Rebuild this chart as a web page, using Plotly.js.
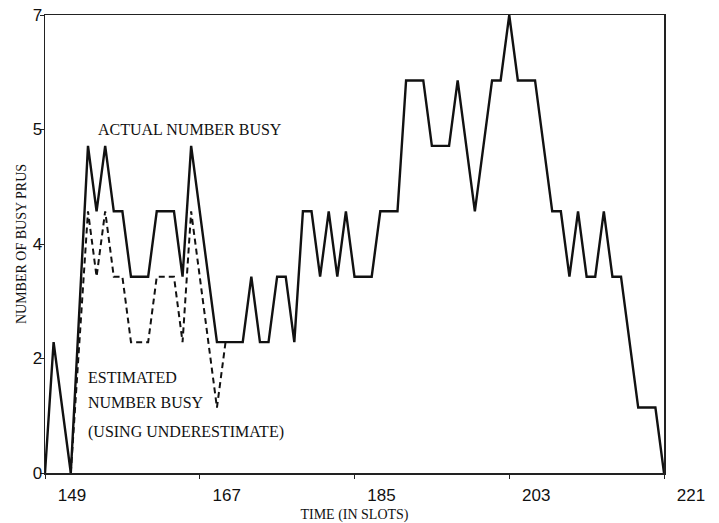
<!DOCTYPE html>
<html>
<head>
<meta charset="utf-8">
<script src="https://cdn.plot.ly/plotly-3.0.1.min.js"></script>
<style>html,body{margin:0;padding:0;background:#fff;}#chart{width:719px;height:523px;}</style>
</head>
<body>
<div id="chart"></div>
<script>
// Actual number of busy PRUs (vertices)
var actualSlots = [149,150,152,154,155,156,157,158,159,161,162,164,165,166,169,172,173,174,175,176,177,178,179,180,181,182,183,184,185,187,188,190,191,193,194,196,197,199,201,202,203,204,206,208,209,210,211,212,213,214,215,216,218,220,221];
var actualBusy  = [0,2,0,5,4,5,4,4,3,3,4,4,3,5,2,2,3,2,2,3,3,2,4,4,3,4,3,4,3,3,4,4,6,6,5,5,6,4,6,6,7,6,6,4,4,3,4,3,3,4,3,3,1,1,0];
// Estimated number busy (using underestimate)
var estSlots = [152,154,155,156,157,158,159,161,162,164,165,166,169,170];
var estBusy  = [0,4,3,4,3,3,2,2,3,3,2,4,1,2];
// Axis ticks
var xTickVals = [149,167,185,203,221];
var xTickText = ['149','167','185','203','221'];
var yTickVals = [0,1.75,3.5,5.25,7];
var yTickText = ['0','2','4','5','7'];

var serif = 'Liberation Serif, Times New Roman, serif';
var sans = 'Liberation Sans, Arial, sans-serif';

var traces = [
  {x: actualSlots, y: actualBusy, mode: 'lines', type: 'scatter',
   line: {color: '#111', width: 2.4}, hoverinfo: 'skip'},
  {x: estSlots, y: estBusy, mode: 'lines', type: 'scatter',
   line: {color: '#111', width: 2, dash: '6px,4px'}, hoverinfo: 'skip'}
];

var layout = {
  width: 719, height: 523,
  margin: {l: 45, r: 55, t: 15, b: 50},
  paper_bgcolor: '#fff', plot_bgcolor: '#fff',
  showlegend: false,
  xaxis: {
    range: [149, 221], tickvals: xTickVals, ticktext: xTickText,
    showgrid: false, zeroline: false, showline: true, mirror: true,
    linecolor: '#222', linewidth: 1.5, ticks: 'outside', ticklen: 4, tickcolor: '#222',
    ticklabelshift: 27, ticklabelstandoff: 2,
    tickfont: {family: sans, size: 17, color: '#111'},
    title: {text: 'TIME (IN SLOTS)', font: {family: serif, size: 14, color: '#111'}, standoff: 6}
  },
  yaxis: {
    range: [0, 7], tickvals: yTickVals, ticktext: yTickText,
    showgrid: false, zeroline: false, showline: true, mirror: true,
    linecolor: '#222', linewidth: 1.5, ticks: 'outside', ticklen: 4, tickcolor: '#222',
    ticklabelstandoff: -6,
    tickfont: {family: sans, size: 17, color: '#111'},
    title: {text: 'NUMBER OF BUSY PRUS', font: {family: serif, size: 14, color: '#111'}, standoff: 2}
  },
  annotations: [
    {text: 'ACTUAL NUMBER BUSY', x: 154.9, y: 5.25, xref: 'x', yref: 'y', xanchor: 'left', yanchor: 'middle',
     showarrow: false, font: {family: serif, size: 16, color: '#111'}},
    {text: 'ESTIMATED', x: 153.8, y: 1.46, xref: 'x', yref: 'y', xanchor: 'left', yanchor: 'middle',
     showarrow: false, font: {family: serif, size: 16, color: '#111'}},
    {text: 'NUMBER BUSY', x: 153.8, y: 1.07, xref: 'x', yref: 'y', xanchor: 'left', yanchor: 'middle',
     showarrow: false, font: {family: serif, size: 16, color: '#111'}},
    {text: '(USING UNDERESTIMATE)', x: 153.8, y: 0.63, xref: 'x', yref: 'y', xanchor: 'left', yanchor: 'middle',
     showarrow: false, font: {family: serif, size: 16, color: '#111'}}
  ]
};

Plotly.newPlot('chart', traces, layout, {displayModeBar: false, staticPlot: true});
</script>
</body>
</html>
